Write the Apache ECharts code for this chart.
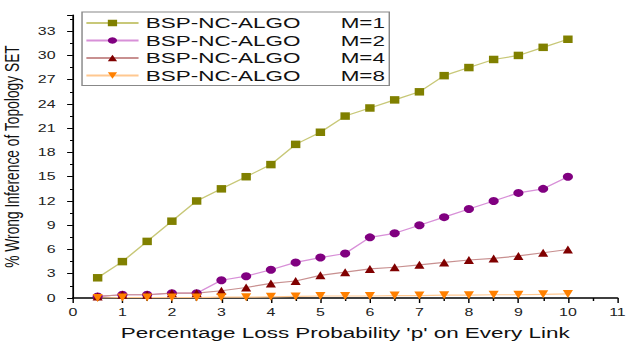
<!DOCTYPE html>
<html><head><meta charset="utf-8">
<script src="https://cdn.jsdelivr.net/npm/echarts@6/dist/echarts.min.js"></script>
<style>
html,body{margin:0;padding:0;background:#fff;overflow:hidden;width:629px;height:343px}
#c{width:434px;height:343px;transform:scaleX(1.4493);transform-origin:0 0}
</style>
</head><body><div id="c"></div>
<script>
const xValues = [0.5,1,1.5,2,2.5,3,3.5,4,4.5,5,5.5,6,6.5,7,7.5,8,8.5,9,9.5,10];
const m1 = [2.5,4.5,7,9.5,12,13.5,15,16.5,19,20.5,22.5,23.5,24.5,25.5,27.5,28.5,29.5,30,31,32];
const m2 = [0.2,0.4,0.4,0.6,0.6,2.2,2.7,3.5,4.4,5.0,5.5,7.5,8.0,9.0,10.0,11.0,12.0,13.0,13.5,15.0];
const m4 = [0.2,0.4,0.4,0.6,0.6,0.9,1.3,1.8,2.1,2.8,3.2,3.6,3.8,4.1,4.4,4.7,4.9,5.2,5.6,6.0];
const m8 = [0,0.05,0.05,0.05,0.05,0.1,0.1,0.15,0.2,0.25,0.25,0.25,0.3,0.3,0.35,0.35,0.4,0.4,0.45,0.5];
const seriesNames = ['BSP-NC-ALGO|M=1','BSP-NC-ALGO|M=2','BSP-NC-ALGO|M=4','BSP-NC-ALGO|M=8'];
const xTitle = "Percentage Loss Probability 'p' on Every Link";
const yTitle = "% Wrong Inference of Topology SET";

const FONT = '"Liberation Sans", Arial, sans-serif';
function pairs(ys){ return xValues.map((x,i)=>[x,ys[i]]); }
function mk(name, data, symbol, size, color, lineColor, rotate){
  return {name, type:'line', data:pairs(data), symbol, symbolSize:size, symbolRotate:rotate||0,
    itemStyle:{color}, lineStyle:{color:lineColor, width:1.2}, z: 3};
}
const chart = echarts.init(document.getElementById('c'), null, {renderer:'svg'});
chart.setOption({
  animation:false,
  backgroundColor:'#fff',
  grid:{left:50.3, right:8, top:15, bottom:45, containLabel:false, outerBoundsMode:'none'},
  legend:{
    left:56.6, top:12, orient:'vertical', itemGap:1.5, itemWidth:36, itemHeight:8,
    padding:[3,3,2,2],
    borderColor:'#888', borderWidth:1, backgroundColor:'#fff',
    formatter: n => { const p = n.split('|'); return '{a|'+p[0]+'}{b|'+p[1]+'}'; },
    textStyle:{fontFamily:FONT, fontSize:15.5, color:'#111',
      rich:{a:{width:133, fontFamily:FONT, fontSize:15.5, color:'#111'}, b:{fontFamily:FONT, fontSize:15.5, color:'#111', width:32, align:'right'}}},
    data: seriesNames
  },
  xAxis:{
    type:'value', min:0, max:11, interval:1,
    name:xTitle, nameLocation:'middle', nameGap:27,
    nameTextStyle:{fontFamily:FONT, fontSize:15.5, color:'#111'},
    axisLine:{show:true, onZero:false, lineStyle:{color:'#000', width:1.5}},
    axisTick:{show:true, inside:false, length:5, lineStyle:{color:'#000', width:1}},
    minorTick:{show:true, splitNumber:2, length:3, lineStyle:{color:'#000', width:1}},
    axisLabel:{fontFamily:FONT, fontSize:11, color:'#222', margin:9},
    splitLine:{show:false}
  },
  yAxis:{
    type:'value', min:0, max:35, interval:3,
    name:yTitle, nameLocation:'middle', nameGap:21,
    nameTextStyle:{fontFamily:FONT, fontSize:13.8, color:'#111'},
    axisLine:{show:true, lineStyle:{color:'#000', width:1.2}},
    axisTick:{show:true, inside:false, length:4, lineStyle:{color:'#000', width:1}},
    minorTick:{show:true, splitNumber:2, length:2, lineStyle:{color:'#000', width:1}},
    axisLabel:{fontFamily:FONT, fontSize:11, color:'#222', margin:12, showMaxLabel:false,
      formatter: v => (v % 3 === 0 ? String(v) : '')},
    splitLine:{show:false}
  },
  series:[
    mk(seriesNames[0], m1, 'rect', [6.5, 7.5], '#808000', '#c8c878'),
    mk(seriesNames[1], m2, 'circle', [7, 8], '#800080', '#d890d8'),
    mk(seriesNames[2], m4, 'triangle', [7, 8], '#800000', '#c89090'),
    mk(seriesNames[3], m8, 'triangle', [7, 8], '#ff8000', '#ffc890', 180)
  ]
});
</script>
</body></html>
